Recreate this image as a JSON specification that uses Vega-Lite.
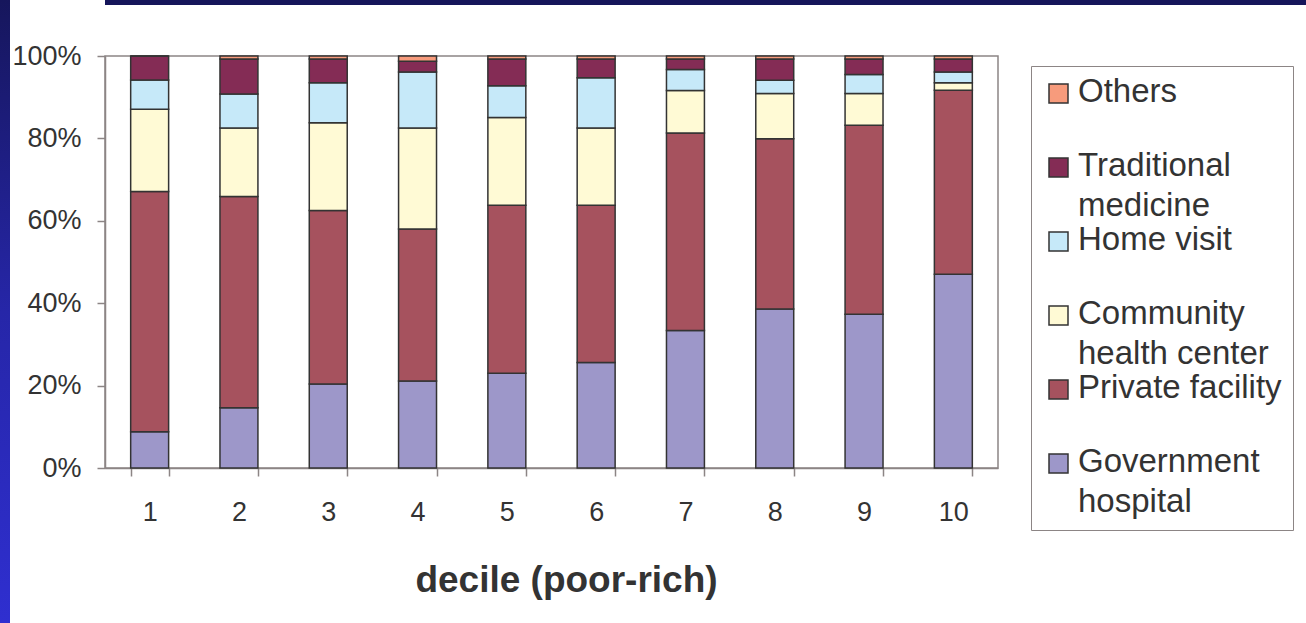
{
  "$schema": "https://vega.github.io/schema/vega-lite/v6.json",
  "padding": 0,
  "background": "white",
  "config": {
    "font": "Liberation Sans",
    "view": {"stroke": null},
    "concat": {"spacing": 0}
  },
  "hconcat": [
    {
      "width": 10,
      "height": 623,
      "data": {"values": [{}]},
      "mark": {
        "type": "rect",
        "color": {
          "gradient": "linear",
          "x1": 0, "y1": 0, "x2": 0, "y2": 1,
          "stops": [
            {"offset": 0, "color": "#16165c"},
            {"offset": 0.5, "color": "#2626a8"},
            {"offset": 1, "color": "#2f2fd0"}
          ]
        }
      }
    },
    {
      "concat": [
        {
          "width": 1296,
          "height": 5,
          "data": {"values": [{}]},
          "mark": {"type": "rect", "color": "#15155a"}
        },
        {
          "width": 893,
          "height": 412,
          "view": {"stroke": "#8c8585", "strokeWidth": 1.5},
          "data": {
            "values": [
              {"decile": 1, "source": "Government hospital", "share": 8.8},
              {"decile": 1, "source": "Private facility", "share": 58.3},
              {"decile": 1, "source": "Community health center", "share": 20.0},
              {"decile": 1, "source": "Home visit", "share": 7.1},
              {"decile": 1, "source": "Traditional medicine", "share": 5.8},
              {"decile": 1, "source": "Others", "share": 0.0},
              {"decile": 2, "source": "Government hospital", "share": 14.6},
              {"decile": 2, "source": "Private facility", "share": 51.3},
              {"decile": 2, "source": "Community health center", "share": 16.6},
              {"decile": 2, "source": "Home visit", "share": 8.3},
              {"decile": 2, "source": "Traditional medicine", "share": 8.5},
              {"decile": 2, "source": "Others", "share": 0.7},
              {"decile": 3, "source": "Government hospital", "share": 20.4},
              {"decile": 3, "source": "Private facility", "share": 42.1},
              {"decile": 3, "source": "Community health center", "share": 21.3},
              {"decile": 3, "source": "Home visit", "share": 9.7},
              {"decile": 3, "source": "Traditional medicine", "share": 5.8},
              {"decile": 3, "source": "Others", "share": 0.7},
              {"decile": 4, "source": "Government hospital", "share": 21.1},
              {"decile": 4, "source": "Private facility", "share": 36.9},
              {"decile": 4, "source": "Community health center", "share": 24.5},
              {"decile": 4, "source": "Home visit", "share": 13.6},
              {"decile": 4, "source": "Traditional medicine", "share": 2.6},
              {"decile": 4, "source": "Others", "share": 1.3},
              {"decile": 5, "source": "Government hospital", "share": 23.0},
              {"decile": 5, "source": "Private facility", "share": 40.8},
              {"decile": 5, "source": "Community health center", "share": 21.3},
              {"decile": 5, "source": "Home visit", "share": 7.7},
              {"decile": 5, "source": "Traditional medicine", "share": 6.5},
              {"decile": 5, "source": "Others", "share": 0.7},
              {"decile": 6, "source": "Government hospital", "share": 25.6},
              {"decile": 6, "source": "Private facility", "share": 38.2},
              {"decile": 6, "source": "Community health center", "share": 18.7},
              {"decile": 6, "source": "Home visit", "share": 12.2},
              {"decile": 6, "source": "Traditional medicine", "share": 4.6},
              {"decile": 6, "source": "Others", "share": 0.7},
              {"decile": 7, "source": "Government hospital", "share": 33.4},
              {"decile": 7, "source": "Private facility", "share": 47.9},
              {"decile": 7, "source": "Community health center", "share": 10.3},
              {"decile": 7, "source": "Home visit", "share": 5.1},
              {"decile": 7, "source": "Traditional medicine", "share": 2.6},
              {"decile": 7, "source": "Others", "share": 0.7},
              {"decile": 8, "source": "Government hospital", "share": 38.6},
              {"decile": 8, "source": "Private facility", "share": 41.3},
              {"decile": 8, "source": "Community health center", "share": 11.0},
              {"decile": 8, "source": "Home visit", "share": 3.2},
              {"decile": 8, "source": "Traditional medicine", "share": 5.2},
              {"decile": 8, "source": "Others", "share": 0.7},
              {"decile": 9, "source": "Government hospital", "share": 37.3},
              {"decile": 9, "source": "Private facility", "share": 45.9},
              {"decile": 9, "source": "Community health center", "share": 7.7},
              {"decile": 9, "source": "Home visit", "share": 4.6},
              {"decile": 9, "source": "Traditional medicine", "share": 3.8},
              {"decile": 9, "source": "Others", "share": 0.7},
              {"decile": 10, "source": "Government hospital", "share": 47.0},
              {"decile": 10, "source": "Private facility", "share": 44.7},
              {"decile": 10, "source": "Community health center", "share": 1.8},
              {"decile": 10, "source": "Home visit", "share": 2.6},
              {"decile": 10, "source": "Traditional medicine", "share": 3.2},
              {"decile": 10, "source": "Others", "share": 0.7}
            ]
          },
          "transform": [
            {
              "calculate": "indexof(['Government hospital', 'Private facility', 'Community health center', 'Home visit', 'Traditional medicine', 'Others'], datum.source)",
              "as": "stackOrder"
            }
          ],
          "mark": {"type": "bar", "stroke": "#333333", "strokeWidth": 1.5},
          "encoding": {
            "x": {
              "field": "decile",
              "type": "ordinal",
              "scale": {"paddingInner": 0.575, "paddingOuter": 0.2875},
              "axis": {
                "title": "decile (poor-rich)",
                "labelAngle": 0,
                "labelFontSize": 27,
                "labelColor": "#333333",
                "labelPadding": 23,
                "tickBand": "extent",
                "tickSize": 8,
                "tickColor": "#8c8585",
                "tickWidth": 1.5,
                "domainColor": "#8c8585",
                "domainWidth": 1.5,
                "titleFontSize": 37,
                "titleFontWeight": "bold",
                "titleColor": "#333333",
                "titlePadding": 37,
                "titleX": 461
              }
            },
            "y": {
              "field": "share",
              "type": "quantitative",
              "stack": "normalize",
              "axis": {
                "title": null,
                "values": [0, 0.2, 0.4, 0.6, 0.8, 1],
                "format": ".0%",
                "grid": false,
                "labelFontSize": 27,
                "labelColor": "#333333",
                "labelPadding": 16,
                "tickSize": 8,
                "tickColor": "#8c8585",
                "tickWidth": 1.5,
                "domainColor": "#8c8585",
                "domainWidth": 1.5,
                "minExtent": 94
              }
            },
            "order": {"field": "stackOrder", "type": "quantitative", "sort": "ascending"},
            "color": {
              "field": "source",
              "type": "nominal",
              "sort": ["Others", "Traditional medicine", "Home visit", "Community health center", "Private facility", "Government hospital"],
              "scale": {
                "domain": ["Others", "Traditional medicine", "Home visit", "Community health center", "Private facility", "Government hospital"],
                "range": ["#F79B7C", "#842C55", "#C6E9F9", "#FFFAD5", "#A6525E", "#9D97C9"]
              },
              "legend": {
                "title": null,
                "orient": "none",
                "legendX": 1031,
                "legendY": 66,
                "padding": 11,
                "strokeColor": "#8c8585",
                "fillColor": "white",
                "rowPadding": 0,
                "symbolType": "square",
                "symbolSize": 361,
                "symbolStrokeColor": "#333333",
                "symbolStrokeWidth": 1.5,
                "symbolOffset": 0,
                "labelOffset": 3,
                "labelFontSize": 33,
                "labelBaseline": "alphabetic",
                "labelColor": "#333333",
                "labelLimit": 320,
                "labelExpr": "datum.label == 'Traditional medicine' ? ['Traditional', 'medicine'] : datum.label == 'Community health center' ? ['Community', 'health center'] : datum.label == 'Government hospital' ? ['Government', 'hospital'] : [datum.label, '']",
                "encode": {
                  "labels": {
                    "update": {
                      "lineHeight": {"value": 40},
                      "dy": {"value": 8}
                    }
                  }
                }
              }
            }
          }
        }
      ],
      "columns": 1,
      "align": "none",
      "spacing": 36
    }
  ]
}
